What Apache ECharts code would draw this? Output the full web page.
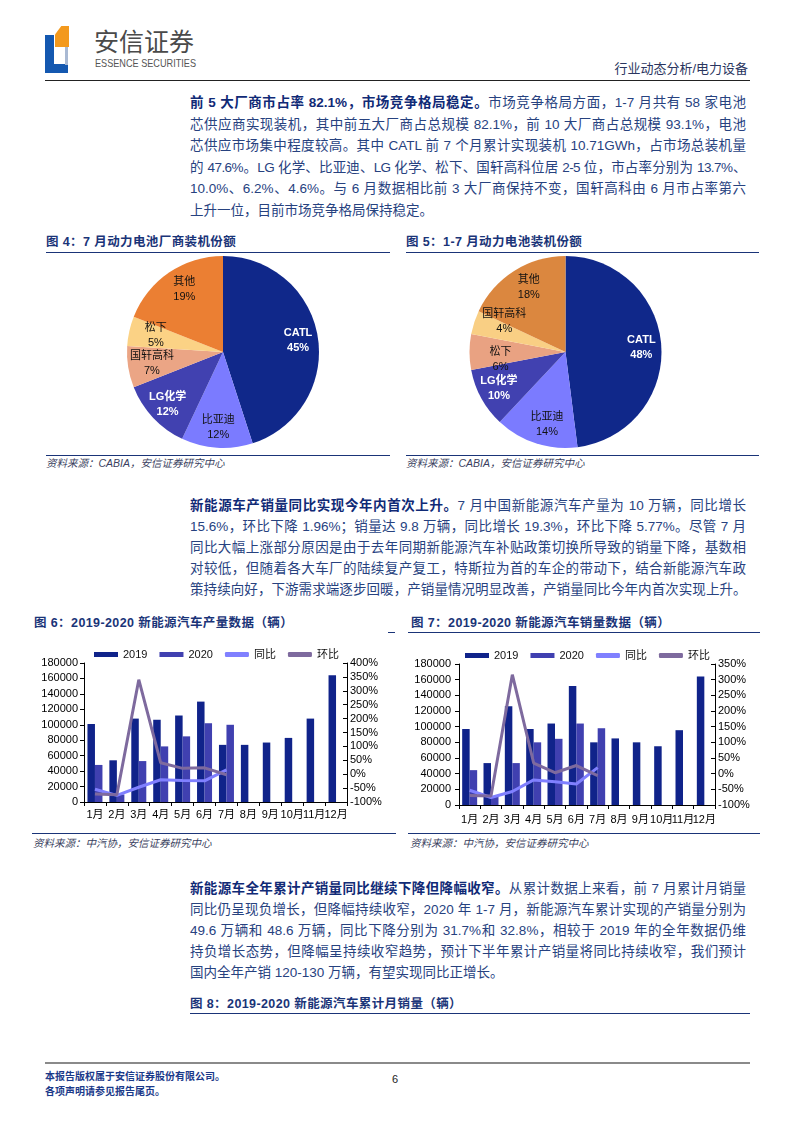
<!DOCTYPE html>
<html><head><meta charset="utf-8">
<script src="https://cdn.jsdelivr.net/npm/echarts@6/dist/echarts.min.js"></script>
<style>
body{margin:0;width:793px;height:1122px;position:relative;background:#fff;font-family:"Liberation Sans","Noto Sans CJK SC",sans-serif;overflow:hidden}
.abs{position:absolute}
.para{position:absolute;left:190px;width:556px;font-size:13.5px;color:#27427f}
.para div{text-align:justify;text-align-last:justify}
.para div.last{text-align-last:left}
.para b{color:#102a76}
.ttl{position:absolute;font-size:12.5px;line-height:16px;font-weight:bold;color:#1a3478;letter-spacing:0.4px;white-space:nowrap}
.hr{position:absolute;height:0;border-top:1.5px solid #1a3478}
.src{position:absolute;font-size:10.5px;line-height:12px;font-style:italic;color:#3a3f60;white-space:nowrap}
.ch{position:absolute}
</style></head>
<body>
<!-- header -->
<div class="abs" style="left:45px;top:35px;width:9px;height:38px;background:#1458b0"></div>
<div class="abs" style="left:45px;top:64px;width:23px;height:9px;background:#1458b0"></div>
<div class="abs" style="left:65px;top:45px;width:3px;height:20px;background:#a9b9d3"></div>
<div class="abs" style="left:55px;top:26px;width:14px;height:21px;background:#f3991d;clip-path:polygon(45% 0,100% 0,100% 100%,0 100%,0 40%)"></div>
<div class="abs" style="left:94px;top:27px;font-size:25px;line-height:30px;color:#4a4a4a;white-space:nowrap">安信证券</div>
<div class="abs" id="ess" style="left:95px;top:57px;font-size:11px;line-height:12px;color:#555;white-space:nowrap;transform-origin:0 0">ESSENCE SECURITIES</div>
<div class="abs" style="right:45px;top:61px;font-size:13px;line-height:16px;color:#2a3560;white-space:nowrap">行业动态分析/电力设备</div>
<div class="abs" style="left:45px;top:80px;width:705px;border-top:1.5px solid #222"></div>

<!-- paragraph 1 -->
<div class="para" style="top:92px;line-height:21.5px">
<div><b>前 5 大厂商市占率 82.1%，市场竞争格局稳定。</b>市场竞争格局方面，1-7 月共有 58 家电池</div>
<div>芯供应商实现装机，其中前五大厂商占总规模 82.1%，前 10 大厂商占总规模 93.1%，电池</div>
<div>芯供应市场集中程度较高。其中 CATL 前 7 个月累计实现装机 10.71GWh，占市场总装机量</div>
<div style="letter-spacing:-0.6px">的 47.6%。LG 化学、比亚迪、LG 化学、松下、国轩高科位居 2-5 位，市占率分别为 13.7%、</div>
<div>10.0%、6.2%、4.6%。与 6 月数据相比前 3 大厂商保持不变，国轩高科由 6 月市占率第六</div>
<div class="last">上升一位，目前市场竞争格局保持稳定。</div>
</div>

<!-- fig 4/5 titles -->
<div class="ttl" style="left:46px;top:234px">图 4：7 月动力电池厂商装机份额</div>
<div class="hr" style="left:46px;top:252px;width:344px"></div>
<div class="ttl" style="left:406px;top:234px">图 5：1-7 月动力电池装机份额</div>
<div class="hr" style="left:406px;top:252px;width:353px"></div>
<div id="pie1" class="ch" style="left:40px;top:254px;width:350px;height:198px"></div>
<div id="pie2" class="ch" style="left:400px;top:254px;width:359px;height:198px"></div>
<div class="hr" style="left:46px;top:455px;width:344px"></div>
<div class="hr" style="left:406px;top:455px;width:353px"></div>
<div class="src" style="left:46px;top:457px">资料来源：CABIA，安信证券研究中心</div>
<div class="src" style="left:406px;top:457px">资料来源：CABIA，安信证券研究中心</div>

<!-- paragraph 2 -->
<div class="para" style="top:494.5px;line-height:21px">
<div><b>新能源车产销量同比实现今年内首次上升。</b>7 月中国新能源汽车产量为 10 万辆，同比增长</div>
<div>15.6%，环比下降 1.96%；销量达 9.8 万辆，同比增长 19.3%，环比下降 5.77%。尽管 7 月</div>
<div>同比大幅上涨部分原因是由于去年同期新能源汽车补贴政策切换所导致的销量下降，基数相</div>
<div>对较低，但随着各大车厂的陆续复产复工，特斯拉为首的车企的带动下，结合新能源汽车政</div>
<div style="letter-spacing:-0.6px">策持续向好，下游需求端逐步回暖，产销量情况明显改善，产销量同比今年内首次实现上升。</div>
</div>

<!-- fig 6/7 -->
<div class="ttl" style="left:34px;top:615px">图 6：2019-2020 新能源汽车产量数据（辆）</div>
<div class="hr" style="left:388px;top:632px;width:7px"></div>
<div class="ttl" style="left:411px;top:615px">图 7：2019-2020 新能源汽车销量数据（辆）</div>
<div class="hr" style="left:408px;top:632px;width:352px"></div>
<div id="bar1" class="ch" style="left:30px;top:640px;width:370px;height:190px"></div>
<div id="bar2" class="ch" style="left:400px;top:640px;width:375px;height:190px"></div>
<div class="hr" style="left:32px;top:833px;width:364px"></div>
<div class="hr" style="left:408px;top:833px;width:352px"></div>
<div class="src" style="left:33px;top:837px">资料来源：中汽协，安信证券研究中心</div>
<div class="src" style="left:410px;top:837px">资料来源：中汽协，安信证券研究中心</div>

<!-- paragraph 3 -->
<div class="para" style="top:877.5px;line-height:21px">
<div><b>新能源车全年累计产销量同比继续下降但降幅收窄。</b>从累计数据上来看，前 7 月累计月销量</div>
<div>同比仍呈现负增长，但降幅持续收窄，2020 年 1-7 月，新能源汽车累计实现的产销量分别为</div>
<div>49.6 万辆和 48.6 万辆，同比下降分别为 31.7%和 32.8%，相较于 2019 年的全年数据仍维</div>
<div>持负增长态势，但降幅呈持续收窄趋势，预计下半年累计产销量将同比持续收窄，我们预计</div>
<div class="last">国内全年产销 120-130 万辆，有望实现同比正增长。</div>
</div>
<div class="ttl" style="left:190px;top:996px">图 8：2019-2020 新能源汽车累计月销量（辆）</div>
<div class="hr" style="left:190px;top:1013px;width:560px"></div>

<!-- footer -->
<div class="abs" style="left:45px;top:1062px;width:705px;border-top:2px solid #8a8a8a"></div>
<div class="abs" style="left:45px;top:1071px;font-size:10px;line-height:12px;font-weight:bold;color:#1b3a8a;white-space:nowrap">本报告版权属于安信证券股份有限公司。</div>
<div class="abs" style="left:45px;top:1086px;font-size:10px;line-height:12px;font-weight:bold;color:#1b3a8a;white-space:nowrap">各项声明请参见报告尾页。</div>
<div class="abs" style="left:392px;top:1073px;font-size:11px;line-height:13px;color:#222">6</div>

<script>
// ---- data ----
const months = ['1月','2月','3月','4月','5月','6月','7月','8月','9月','10月','11月','12月'];
const pie1Names = ['CATL','比亚迪','LG化学','国轩高科','松下','其他'];
const pie1Values = [45,12,12,7,5,19];
const pie2Names = ['CATL','比亚迪','LG化学','松下','国轩高科','其他'];
const pie2Values = [48,14,10,6,4,18];
const prod2019 = [101000,54000,108000,106500,112000,130000,74000,74000,77000,83000,108000,164000];
const prod2020 = [48000,9800,53000,72000,85000,102000,100000];
const prodYoY = [-54,-76,-47,-20,-23,-24,15.6];
const prodMoM = [-71,-74,340,41,21,23,-2];
const sales2019 = [97000,53500,126000,97000,104000,152000,80000,85000,80000,75000,95500,164000];
const sales2020 = [44500,11000,53500,80000,84500,104000,98000];
const salesYoY = [-53,-76,-57,-20,-26,-33,19.3];
const salesMoM = [-70,-71,316,34,3,26,-6];
const leftTicks = {min:0,max:180000,interval:20000};

// fit ESSENCE SECURITIES width
(function(){const e=document.getElementById('ess');const w=e.getBoundingClientRect().width;e.style.transform='scaleX('+(101/w)+')';})();

const FF = "'Liberation Sans','Noto Sans CJK SC',sans-serif";
const pie1Colors = ['#10288a','#7b7bff','#4141b0','#eba585','#fbd285','#eb7f33'];
const pie2Colors = ['#10288a','#7b7bff','#4141b0','#e9a282','#f9cf84','#db873f'];
const whiteLabels = {'CATL':true,'LG化学':true};

function makePie(id, names, values, colors, center, pads, shifts){
  const c = echarts.init(document.getElementById(id));
  const base = names.map((n,i)=>({name:n,value:values[i],itemStyle:{color:colors[i]}}));
  const lab = names.map((n,i)=>{
    const s = shifts && shifts[n];
    const fmt = s==='up' ? '{b}\n{c}%\n ' : (s==='down' ? ' \n{b}\n{c}%' : '{b}\n{c}%');
    return {name:n,value:values[i],
      label:{formatter:fmt,color:whiteLabels[n]?'#fff':'#111',fontWeight:whiteLabels[n]?'bold':'normal',padding:(pads&&pads[n])||0}};
  });
  c.setOption({
    animation:false,
    series:[
      {type:'pie',radius:96,center:center,startAngle:90,clockwise:true,silent:true,
       label:{show:false},labelLine:{show:false},data:base},
      {type:'pie',radius:[50,96],center:center,startAngle:90,clockwise:true,silent:true,
       avoidLabelOverlap:false,labelLayout:{hideOverlap:false},
       itemStyle:{color:'rgba(0,0,0,0)'},
       label:{show:true,position:'inside',formatter:'{b}\n{c}%',fontSize:11,lineHeight:15,fontFamily:FF},
       labelLine:{show:false},data:lab}
    ]
  });
}
makePie('pie1', pie1Names, pie1Values, pie1Colors, [183,98], {'松下':[0,0,0,14],'国轩高科':[0,0,0,8],'其他':[0,0,0,8]});
makePie('pie2', pie2Names, pie2Values, pie2Colors, [165.5,98], {'国轩高科':[0,0,0,22],'松下':[0,0,0,22],'其他':[0,0,0,8],'比亚迪':[6,0,0,10]}, {'国轩高科':'up','松下':'down'});

function makeBar(id, d2019, d2020, yoy, mom, grid, rmax, legendLeft, legendTop, xMargin, lMargin){
  const c = echarts.init(document.getElementById(id));
  c.setOption({
    animation:false,
    textStyle:{fontFamily:FF},
    legend:{left:legendLeft,top:legendTop,itemWidth:24,itemHeight:5,itemGap:12,
      textStyle:{fontSize:11,color:'#111',fontFamily:FF},
      data:[{name:'2019',icon:'rect'},{name:'2020',icon:'rect'},{name:'同比',icon:'roundRect'},{name:'环比',icon:'roundRect'}]},
    grid:grid,
    xAxis:{type:'category',data:months,
      axisLine:{lineStyle:{color:'#000',width:1}},
      axisTick:{show:true,length:4,lineStyle:{color:'#000'}},
      axisLabel:{interval:0,fontSize:11,color:'#000',margin:xMargin,fontFamily:FF}},
    yAxis:[
      {type:'value',min:leftTicks.min,max:leftTicks.max,interval:leftTicks.interval,
       axisLine:{show:true,lineStyle:{color:'#000'}},
       axisTick:{show:true,length:4,lineStyle:{color:'#000'}},
       splitLine:{show:false},
       axisLabel:{fontSize:11,color:'#000',margin:lMargin,fontFamily:FF,formatter:v=>String(v)}},
      {type:'value',min:-100,max:rmax,interval:50,position:'right',
       axisLine:{show:true,lineStyle:{color:'#000'}},
       axisTick:{show:true,inside:true,length:4,lineStyle:{color:'#000'}},
       splitLine:{show:false},
       axisLabel:{fontSize:11,color:'#000',margin:3,formatter:'{value}%',fontFamily:FF}}
    ],
    series:[
      {name:'2019',type:'bar',data:d2019,barWidth:7.5,barGap:'0%',itemStyle:{color:'#10238a'}},
      {name:'2020',type:'bar',data:d2020,barWidth:7.5,barGap:'0%',itemStyle:{color:'#4040b0'}},
      {name:'同比',type:'line',yAxisIndex:1,data:yoy,showSymbol:false,symbol:'none',z:5,
       lineStyle:{width:3,color:'#8080ff'},itemStyle:{color:'#8080ff'}},
      {name:'环比',type:'line',yAxisIndex:1,data:mom,showSymbol:false,symbol:'none',z:6,
       lineStyle:{width:3,color:'#7e6a9e'},itemStyle:{color:'#7e6a9e'}}
    ]
  });
}
makeBar('bar1', prod2019, prod2020, prodYoY, prodMoM, {left:54,right:53,top:23,bottom:28}, 400, 59, 4, 7, 6);
makeBar('bar2', sales2019, sales2020, salesYoY, salesMoM, {left:59,right:60,top:24,bottom:25}, 350, 60, 5, 9, 8);
</script>
</body></html>
